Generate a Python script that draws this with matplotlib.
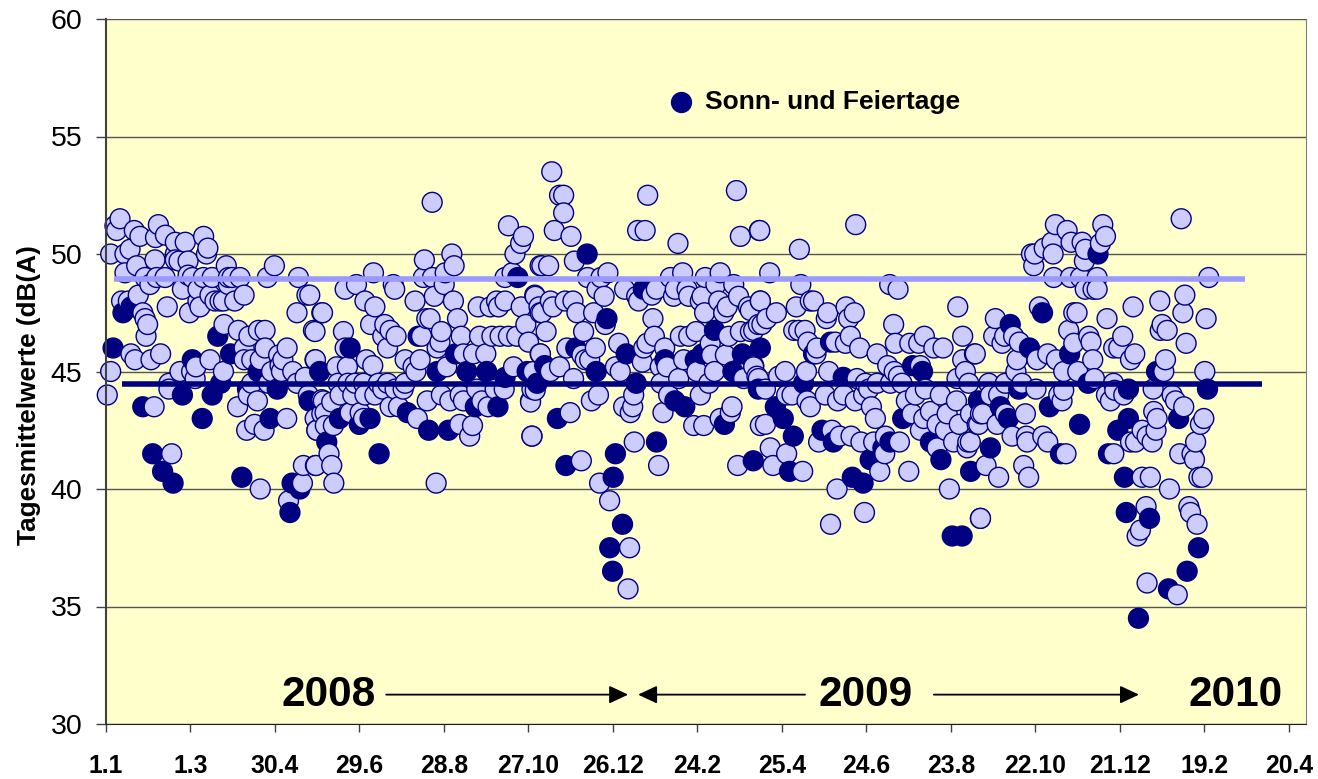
import numpy as np
import matplotlib
matplotlib.use("Agg")
import matplotlib.pyplot as plt

plt.rcParams['font.family'] = ['Liberation Sans', 'DejaVu Sans']

# Tage seit 1.1.2008, Tagesmittelwert dB(A)
light_points = [
    (9.9,51.5),(6.3,51.2),(7.5,51),(20,51),(37,51.25),(24,50.75),(35,50.7),(42,50.8),(49,50.5),(56,50.5),
    (69,50.75),(72,50.25),(71,50),(3.3,50),(17,50.2),(13.4,50),(34.6,49.75),(49,50),(49,49.75),(51.6,49.7),
    (58,49.7),(21.7,49.5),(13.4,49.2),(85,49.5),(119,49.5),(27.6,49),(31,48.7),(35.8,49),(41.7,49),(58,49.1),
    (61,49),(68.8,49),(75,49),(86.5,49),(89,49),(94.7,49),(86.5,48.7),(114,49),(136,49),(54,48.5),
    (65,48.5),(73.5,48.25),(22.8,48.25),(11,48),(15.8,48),(43.3,47.75),(65,48),(80.6,48),(83,48),(91,48),
    (97.6,48.25),(142,48.25),(77,48),(66.4,47.75),(59,47.5),(26,47.5),(27.6,47.25),(29.4,47),(28.3,46.5),(135,47.5),
    (152.5,47.5),(83.4,47),(93.5,46.75),(101,46.5),(107.7,46.75),(112.4,46.75),(146.6,46.75),(112.4,46),(97.6,46),(128,46),
    (122,45.7),(125,45.5),(123,45.25),(124,45),(17.6,45.75),(20.5,45.5),(31.8,45.5),(38.6,45.75),(73.5,45.5),(97.6,45.5),
    (103,45.5),(109,45.5),(148,45.5),(63.6,45.2),(52.3,45),(60.5,45),(83,45),(117,45),(132,45),(3.3,45),
    (63,44.7),(44.5,44.5),(44.5,44.25),(103,44.5),(114.8,44.5),(135,44.5),(140.7,44.75),(0.9,44),(100.6,44),(107,43.75),
    (93,43.5),(34,43.5),(127.7,43),(105,42.75),(99.4,42.5),(111.7,42.5),(147.8,43),(149,42.5),(152.5,43.2),(143,44),
    (152.5,43.8),(46.4,41.5),(139.5,41),(148,41),(109,40),(138.8,40.25),(129,39.5),
    (230.5,52.2),(284.4,51.2),(295,50.75),(293,50.45),(289,50),(225,49.75),(244.4,50),(246,49.5),(189,49.2),(177,48.7),
    (169,48.5),(203,48.7),(204,48.5),(224.3,49),(230.7,49),(239.7,49.2),(239,48.7),(232,48.2),(183,48),(190,47.75),
    (218.4,48),(245.5,48),(263,47.75),(271.5,47.75),(277.4,47.75),(282,48),(276,48),(293.4,47.75),(303,48.25),(282,49),
    (287,49.2),(306.8,49.5),(306,47.75),(306.8,47.5),(153,47.5),(144,48.25),(147.7,46.7),(167.8,46.7),(187,47),(197,47),
    (200.8,46.75),(205,46.5),(195.6,46.5),(199,46),(229,47.25),(226.7,47.25),(248.4,47.25),(237,46.7),(223,46.5),(251,46.5),
    (236,46.25),(234,46),(264,46.5),(272.7,46.5),(278.5,46.5),(284.4,46.5),(290.3,46.5),(296.7,47),(298.6,46.25),(169,46),
    (259.7,45.75),(268.4,45.75),(252.6,45.75),(306.8,45.75),(184,45.5),(211.4,45.5),(222,45.5),(147.7,45.5),(163,45.2),(170.6,45.2),
    (188.5,45.25),(240.8,45.2),(217,45.2),(219,45),(288,45.2),(302,45),(164,44.5),(171,44.5),(176,44.5),(182,44.5),
    (192.5,44.5),(199,44.5),(211.4,44.5),(165.4,44),(174.4,44),(183,44),(190,44),(195.6,44.25),(210,44.25),(204.3,44.25),
    (227,43.75),(237,44),(243,43.75),(252.6,43.75),(250.3,44),(262,44.25),(265.6,43.75),(270,43.5),(275,44.25),(281.4,44.25),
    (300,43.75),(301,44.25),(153.6,43.75),(159.5,43.7),(200.8,43.5),(206.7,43.5),(154.8,43.25),(172.5,43.25),(179.6,43.25),(149,42.5),
    (155,42.7),(160.7,42.7),(182,43),(220,43),(250,42.75),(259,42.7),(257,42.25),(301,42.25),(157.6,41.5),(159.5,41),
    (148.4,41),(161,40.25),(233.3,40.25),
    (315,53.5),(323.4,52.5),(320.5,52.5),(323.4,51.75),(316.8,51),(328.6,50.75),(331,49.7),(382.8,52.5),(445.5,52.7),(375.7,51),
    (381,51),(404.2,50.45),(448.3,50.75),(462,51),(312.8,49.5),(308,49.5),(340.3,49),(349.8,49),(354.7,49.2),(347,48.5),
    (352,48.2),(366.5,48.5),(376.4,48),(375,48.2),(385.8,48.25),(388.9,48.5),(398.8,49),(407.5,49.2),(402.3,48.5),(410.6,48.5),
    (411.8,48.2),(423.5,49),(434,49.2),(443.6,48.7),(431,48.7),(447,48.2),(421.2,48.2),(420,48),(401,48.2),(303.3,48.2),
    (314,48),(324.5,48),(330,48),(315.8,47.75),(308,47.5),(332.8,47.5),(344.6,47.5),(433,48),(439,47.75),(436.5,47.5),
    (423,47.5),(454,47.75),(462.4,48),(386.5,47.25),(352.8,47),(337.5,46.7),(311,46.7),(405.9,46.5),(411.8,46.5),(417,46.7),
    (387.5,46.5),(440,46.5),(448.3,46.7),(455.4,46.7),(461,47),(362.3,46.2),(382.3,46.2),(380,46),(325.7,46),(345.8,46),
    (394.8,46),(427,46.2),(307,45.75),(336.3,45.7),(338.7,45.5),(341.8,45.5),(379,45.4),(428,45.7),(437.7,45.7),(408.2,45.5),
    (457.7,45.2),(320.5,45.2),(314,45),(330.4,44.7),(363.4,45),(360,45.2),(396.4,45.2),(391.7,45.2),(417.6,45),(430,45),
    (404.7,44.7),(450.6,44.7),(460,44.8),(392.2,44.5),(426,44.5),(303.3,44.2),(300,43.7),(348,44),(343,43.75),(372.9,44),
    (365.8,43.5),(372.2,43.5),(370.5,43.25),(397.6,44),(420,44),(393.6,43.25),(328,43.25),(442.4,43.5),(441.2,43.25),(415.3,42.7),
    (422.4,42.7),(434,43),(462.4,42.7),(301,42.25),(373.3,42),(335.9,41.2),(390.5,41),(446.4,41),(348.8,40.25),(355.9,39.5),
    (370,37.5),(368.9,35.75),
    (461.7,51),(529.8,51.25),(490,50.2),(469,49.2),(491,48.7),(553.8,48.7),(559.7,48.5),(462.4,48),(455.3,47.6),(487.8,47.75),
    (500,48),(497.7,48),(523,47.75),(510,47.5),(509,47.25),(528.8,47.5),(524.8,47.25),(601.9,47.75),(473.7,47.5),(467,47.25),
    (463.5,47),(457.7,46.75),(556.6,47),(494,46.75),(486,46.75),(489.5,46.75),(526,46.5),(496,46.25),(502.4,46),(501.7,45.75),
    (515.4,46.25),(522.5,46.2),(532.6,46),(544.9,45.75),(557.8,46.2),(568,46.2),(574.3,46.2),(578.3,46.5),(605.4,46.5),(585,46),
    (591.5,46),(605.4,45.5),(613.7,45.75),(552.4,45.25),(557,45),(457.7,45.25),(480,45),(475.3,44.8),(495,45),(510.7,45),
    (530.7,44.7),(536.6,44.5),(544.9,44.5),(554.3,44.5),(562.5,44.5),(560,44.8),(575.5,45.25),(607.3,45),(601.4,44.7),(609.7,44.5),
    (461,44.7),(466,44.25),(508.3,44),(484.8,44),(521.3,44),(481,44),(495.4,43.75),(517,43.75),(529.5,43.75),(535.4,44),
    (539,44.25),(540.9,43.5),(497.7,43.5),(543.7,43),(565.6,43.75),(572,44),(579,44.25),(589.6,44),(601,43.75),(610.9,43.2),
    (618,43.2),(569.6,43.2),(577.9,43),(582.6,43.3),(594.4,43.2),(587.3,42.75),(603,42.75),(575.5,42.5),(593.2,42.5),(615.6,42.75),
    (466,42.75),(513,42.5),(518.5,42.25),(526.5,42.25),(533.5,42),(542.5,42),(503.6,42),(550.8,42.25),(560.7,42),(599,42),
    (609,42),(608.5,41.75),(587.3,41.75),(469.4,41.75),(481,41.5),(550.3,41.5),(471.3,41),(492.3,40.75),(546.8,40.75),(567.3,40.75),
    (516.6,40),(596,40),(536,39),(512,38.5),(618,38.75),
    (759.8,51.5),(670.9,51.25),(704.4,51.25),(679.2,51),(706.3,50.75),(702.7,50.45),(668.5,50.5),(663,50.25),(682,50.5),(689.8,50.5),
    (692.1,50.2),(654,50),(656.3,50),(669.3,50),(691.4,49.7),(655.6,49.5),(669.7,49),(681.5,49),(688.6,49),(700.4,49),
    (779.3,49),(692,48.5),(697.5,48.5),(700.4,48.5),(762.4,48.25),(744.7,48),(725.8,47.75),(659.6,47.75),(761,47.5),(683.9,47.5),
    (686.2,47.5),(777.4,47.25),(707.4,47.25),(628.5,47.25),(746.3,47),(745,46.75),(749.9,46.75),(680.3,46.75),(694.5,46.5),(718.5,46.5),
    (696.1,46.25),(683.9,46.2),(627.3,46.5),(635,46.5),(633.2,46.2),(641.4,46.5),(645.4,46.25),(763.3,46.2),(715.7,46),(712.1,46),
    (727,45.75),(724,45.5),(614.3,45.75),(643.8,45.5),(657.9,45.5),(665.5,45.75),(671.6,45.5),(697.3,45.5),(748.7,45.5),(643,45),
    (676.8,45),(686.7,45),(747.5,45),(776.5,45),(698.5,44.7),(712,44.5),(623.8,44.5),(635.5,44.5),(647.3,44.5),(657.2,44.25),
    (676.8,44.2),(673.3,44),(712.9,44.2),(740,44.25),(707,44),(719.2,44),(675.6,43.75),(709.8,43.75),(753.4,44),(755.8,43.75),
    (761.6,43.5),(630.8,44),(625,44),(635.5,43.2),(619.5,43.2),(649.7,43.2),(740.4,43.3),(742.8,43),(775.8,43),(773.4,42.75),
    (616.7,42.75),(629.7,42.75),(732.2,42.5),(742,42.5),(735.7,42.25),(640.3,42.25),(650.4,42.25),(662,42.25),(739.3,42),(650.9,42),
    (665.5,42),(724,42),(727.5,42),(770,42),(610.8,42),(712.2,41.5),(678.4,41.5),(758.8,41.5),(767.5,41.5),(621.9,41),
    (769.2,41.25),(648.5,41),(630.8,40.5),(652,40.5),(732.2,40.5),(738,40.5),(774.6,40.5),(772.3,40.5),(751.5,40),(765.2,39.25),
    (766.4,39),(771,38.5),(735,39.25),(731,38.25),(728.7,38),(617.9,38.75),(735.7,36),(757,35.5),
]

# Sonn- und Feiertage
holiday_points = [
    (5,46),(12,47.5),(17.7,47.75),(26,43.5),(33,41.5),(40,40.75),(47.4,40.25),(54,44),(61,45.5),(68,43),
    (75,44),(79,46.5),(81,44.5),(88,45.75),(96,40.5),(100,44.25),(107.5,45),(116,43),(121,44.25),(130,39),
    (131.5,40.25),(137,40),(143.5,43.75),(151,45),(156,42),(165,43),(172.5,46),(179,42.75),(186.6,43),(193,41.5),
    (213,43.25),(220.6,46.5),(228,42.5),(234,45),(242,42.5),(247,45.75),(255,45),(261,43.5),(269,45),(277,43.5),
    (282,44.75),(291,49),(297.6,45),(304.7,44.5),(310,45.25),(319,43),(325,41),(332,46),(340,50),(346.4,45),
    (354,47.25),(358.4,40.5),(360,41.5),(365,38.5),(356,37.5),(358,36.5),(367.6,45.75),(374.7,44.5),(379.7,48.5),(389,42),
    (395,45.5),(402,43.75),(409,43.5),(416.4,45.5),(421.4,45.75),(430,46.75),(437,42.75),(443,45),(449.7,45.75),(457.4,41.2),
    (462.4,46),(461,44.25),(473,43.5),(478.6,43),(485.7,42.25),(483,40.75),(493,44.5),(500,45.75),(506,42.5),(512,46.25),
    (514,42),(521,44.75),(527.4,40.5),(535,40.25),(540,41.25),(549,41.75),(554,42),(563,43),(570,45.25),(577,45),
    (582.6,42),(590,41.25),(598,38),(605,38),(611,40.75),(616.5,43.75),(625,41.75),(632,43.5),(637.7,43),(639,47),
    (645,44.25),(652.6,46),(661.8,47.5),(666.7,43.5),(674.5,41.5),(681,45.75),(688,42.75),(694,44.5),(701,50),(708.4,41.5),
    (715,42.5),(722.5,43),(722.5,44.25),(719.7,40.5),(721,39),(729.6,34.5),(737.4,38.75),(742.4,45),(750.8,35.75),(758,43),
    (764,36.5),(772,37.5),(778.4,44.25),
]

y_ticks = [30, 35, 40, 45, 50, 55, 60]
x_ticks = [0, 59.7, 119.4, 179.1, 238.8, 298.5, 358.2, 417.9, 477.6, 537.3, 597, 656.7, 716.4, 776.1, 835.8]
x_labels = ['1.1', '1.3', '30.4', '29.6', '28.8', '27.10', '26.12', '24.2', '25.4',
            '24.6', '23.8', '22.10', '21.12', '19.2', '20.4']

# Mittelwerte als Linien
mean_light_days = [6, 805]
mean_light_db = [48.95, 48.95]
mean_dark_days = [11, 817]
mean_dark_db = [44.45, 44.45]

years = ['2008', '2009', '2010']
year_days = [157, 537, 798]

W, H = 1318, 779
fig = plt.figure(figsize=(W / 100, H / 100), dpi=100)
ax = fig.add_axes([106 / W, 1 - 724 / H, (1306 - 106) / W, (724 - 19) / H])
ax.set_facecolor('#FFFFCC')

ax.set_xlim(0, 848)
ax.set_ylim(30, 60)

ax.yaxis.grid(True, color='#555555', lw=1)
ax.set_axisbelow(True)

pts = np.array(light_points + holiday_points)
is_dark = np.array([False] * len(light_points) + [True] * len(holiday_points))
order = np.argsort(pts[:, 0])
colors = np.where(is_dark[order], '#000080', '#CCCCFF')

ax.plot(mean_light_days, mean_light_db, color='#9999FF', lw=4, solid_capstyle='butt', zorder=3)
ax.scatter(pts[order, 0], pts[order, 1], s=205, c=colors, edgecolors='#000080', linewidths=1.0, zorder=2.5, clip_on=False)
ax.plot(mean_dark_days, mean_dark_db, color='#000080', lw=4, solid_capstyle='butt', zorder=3)

ax.set_yticks(y_ticks)
ax.set_xticks(x_ticks)
ax.set_xticklabels(x_labels, fontsize=17.8, fontweight='bold')
ax.tick_params(axis='y', labelsize=20.5, length=7, width=1, color='#404040', pad=10)
ax.tick_params(axis='x', length=5.8, width=1, color='#404040', pad=16)
ax.set_ylabel('Tagesmittelwerte (dB(A)', fontsize=18.9, fontweight='bold')
ax.yaxis.set_label_coords(-0.054, 0.467)

ax.spines['top'].set_visible(False)
ax.spines['right'].set_color('#808080')
ax.spines['left'].set_color('#404040')
ax.spines['left'].set_linewidth(1.5)
ax.spines['bottom'].set_color('#202020')

# Legende von Hand
ax.scatter([406.5], [56.47], s=205, c='#000080', edgecolors='#000080', zorder=4)
ax.text(423, 56.47, 'Sonn- und Feiertage', fontsize=19, fontweight='bold', va='center', ha='left')

for name, d in zip(years, year_days):
    ax.text(d, 31.25, name, fontsize=30.5, fontweight='bold', ha='center', va='center')

arrow = dict(arrowstyle='-|>,head_length=0.64,head_width=0.3', color='black', lw=1.3,
             mutation_scale=18, shrinkA=0, shrinkB=0)
ax.annotate('', xy=(369, 31.25), xytext=(198, 31.25), arrowprops=arrow)
ax.annotate('', xy=(376, 31.25), xytext=(494, 31.25), arrowprops=arrow)
ax.annotate('', xy=(730, 31.25), xytext=(585, 31.25), arrowprops=arrow)

fig.savefig('out.png', dpi=100)
